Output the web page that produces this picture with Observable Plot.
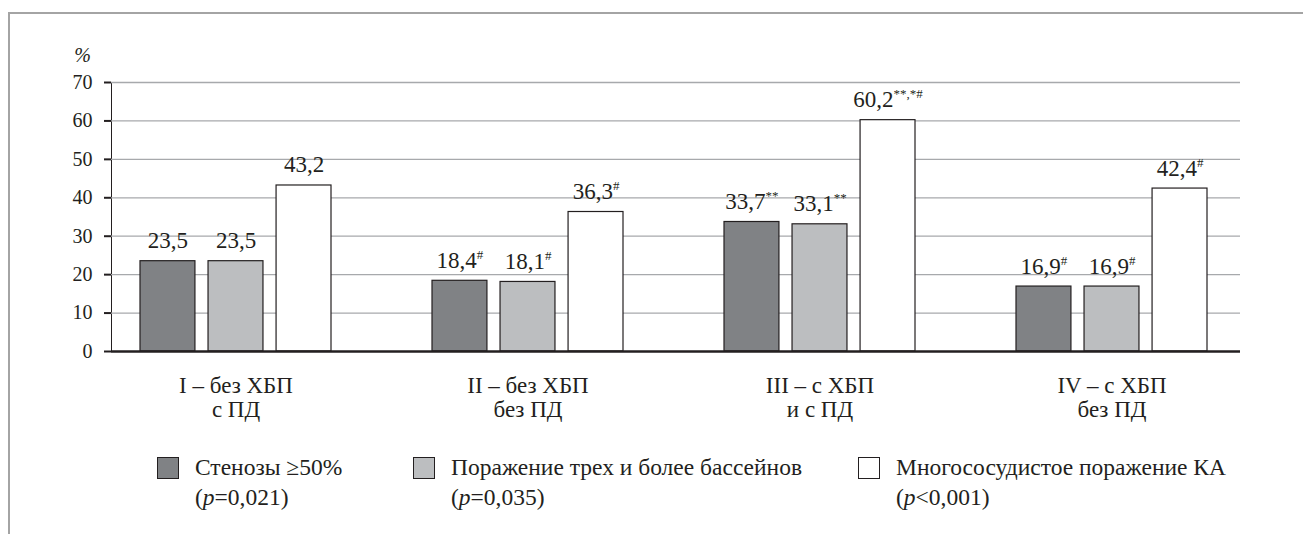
<!DOCTYPE html>
<html>
<head>
<meta charset="utf-8">
<script src="https://cdn.jsdelivr.net/npm/d3@7"></script>
<script src="https://cdn.jsdelivr.net/npm/@observablehq/plot@0.6"></script>
<style>
  html, body { margin: 0; padding: 0; width: 1303px; height: 534px; overflow: hidden; background: #fff; }
  #border { position: absolute; left: 8px; top: 12px; width: 1400px; height: 600px;
            border-top: 2px solid #a4a4a4; border-left: 2px solid #a4a4a4; }
  #chart { position: absolute; left: 0; top: 0; }
  #chart g[aria-label^="y-axis"] { stroke-width: 2; }
  #legend { position: absolute; left: 157px; top: 452px; display: flex;
            font-family: "Liberation Serif", "Times New Roman", serif; font-size: 23.5px;
            line-height: 30px; color: #231f20; }
  .item { display: flex; align-items: flex-start; }
  .sw { width: 20px; height: 20px; border: 1.3px solid #231f20; margin-top: 5px; margin-right: 16px; flex: none; }
</style>
</head>
<body>
<div id="border"></div>
<div id="chart"></div>
<div id="legend"></div>
<script>
// ---- data ----
const groups = ["I – без ХБП\nс ПД", "II – без ХБП\nбез ПД", "III – с ХБП\nи с ПД", "IV – с ХБП\nбез ПД"];
const seriesNames = ["Стенозы ≥50%", "Поражение трех и более бассейнов", "Многососудистое поражение КА"];
const seriesPSign = ["=", "=", "<"];
const seriesPValue = ["0,021", "0,035", "0,001"];
const stenosis = [23.5, 18.4, 33.7, 16.9];
const threePlusBasins = [23.5, 18.1, 33.1, 16.9];
const multivessel = [43.2, 36.3, 60.2, 42.4];
const stenosisMarks = ["", "#", "**", "#"];
const threePlusMarks = ["", "#", "**", "#"];
const multivesselMarks = ["", "#", "**,*#", "#"];
const yTicks = [0, 10, 20, 30, 40, 50, 60, 70];
const seriesColors = ["#808285", "#bcbec0", "#ffffff"];

const seriesValues = [stenosis, threePlusBasins, multivessel];
const seriesMarks = [stenosisMarks, threePlusMarks, multivesselMarks];
const rows = groups.flatMap((g, i) => seriesNames.map((s, j) => ({
  group: g, series: s, idx: j, value: seriesValues[j][i], sup: seriesMarks[j][i]
})));

// ---- layout ----
const width = 1303, height = 440;
const marginLeft = 111, marginRight = 63, marginTop = 82, marginBottom = 89;
const xOptions = {type: "band", domain: groups, range: [marginLeft, width - marginRight],
                  paddingInner: 0.347, paddingOuter: 0.1025, align: 0.467};
const bandwidth = Plot.scale({x: xOptions}).bandwidth;
const subPad = 13 / 68;
const subStep = bandwidth / (seriesNames.length - subPad);
const barW = subStep * (1 - subPad);

const fmt = v => v.toFixed(1).replace(".", ",");
const ink = "#231f20";

const barMarks = [];
seriesNames.forEach((s, j) => {
  const data = rows.filter(d => d.idx === j);
  const left = j * subStep;
  barMarks.push(Plot.barY(data, {
    x: "group", y: "value", fill: "series", stroke: ink, strokeWidth: 1.2,
    insetLeft: left, insetRight: bandwidth - left - barW
  }));
  barMarks.push(Plot.text(data, {
    x: "group", y: "value", text: d => fmt(d.value) + (d.sup ? "^" + d.sup : ""),
    dx: left + barW / 2 - bandwidth / 2, dy: -13, lineAnchor: "bottom",
    fontSize: 23, fill: ink
  }));
});

const chart = Plot.plot({
  width, height, marginLeft, marginRight, marginTop, marginBottom,
  style: {background: "transparent", fontFamily: "'Liberation Serif', 'Times New Roman', serif", fontSize: "20px", color: ink},
  x: {...xOptions, axis: null},
  y: {domain: [0, 70], ticks: yTicks, tickSize: 7, tickPadding: 12, line: true, label: null, tickFormat: d => String(d)},
  color: {domain: seriesNames, range: seriesColors},
  marks: [
    Plot.ruleY(yTicks.filter(t => t > 0), {stroke: "#a7a9ac", strokeWidth: 1.3}),
    ...barMarks,
    Plot.ruleY([0], {stroke: ink, strokeWidth: 2.5}),
    Plot.text(groups, {x: d => d, text: d => d, frameAnchor: "bottom", lineAnchor: "top",
                       dy: 24, fontSize: 23, lineHeight: 1.05, fill: ink}),
    Plot.text(["%"], {frameAnchor: "top-left", text: d => d, textAnchor: "middle", lineAnchor: "middle",
                      dx: -29, dy: -27, fontSize: 20, fontStyle: "italic", fill: ink})
  ]
});

// superscripts for significance marks
chart.querySelectorAll("text").forEach(t => {
  if (t.children.length === 0 && t.textContent.includes("^")) {
    const [main, sup] = t.textContent.split("^");
    t.textContent = main;
    const ts = document.createElementNS("http://www.w3.org/2000/svg", "tspan");
    ts.setAttribute("dy", "-9");
    ts.setAttribute("font-size", "13");
    ts.textContent = sup;
    t.appendChild(ts);
  }
});
document.getElementById("chart").appendChild(chart);

// legend
const legend = document.getElementById("legend");
const itemWidths = [256, 445, null];
seriesNames.forEach((s, j) => {
  const item = document.createElement("div");
  item.className = "item";
  if (itemWidths[j]) item.style.width = itemWidths[j] + "px";
  const sw = document.createElement("span");
  sw.className = "sw";
  sw.style.background = seriesColors[j];
  const txt = document.createElement("div");
  txt.innerHTML = s + "<br>(<i>p</i>" + (seriesPSign[j] === "<" ? "&lt;" : "=") + seriesPValue[j] + ")";
  item.appendChild(sw);
  item.appendChild(txt);
  legend.appendChild(item);
});
</script>
</body>
</html>
